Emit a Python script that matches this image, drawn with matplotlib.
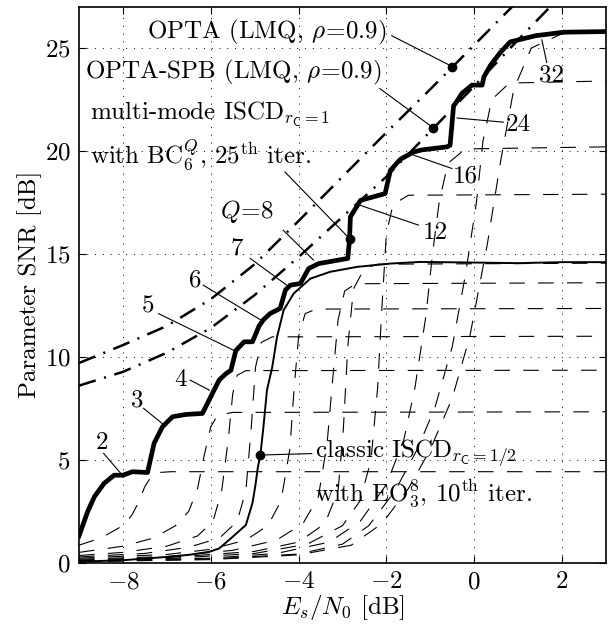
import matplotlib
matplotlib.use("Agg")
import matplotlib.pyplot as plt

plt.rcParams['font.family'] = 'serif'
plt.rcParams['font.serif'] = ['cmr10']
plt.rcParams['mathtext.fontset'] = 'cm'
plt.rcParams['axes.formatter.use_mathtext'] = True
plt.rcParams['axes.unicode_minus'] = True

# multi-mode ISCD (thick staircase)
mm_x = [-9, -8.8, -8.65, -8.43, -8.2, -8.0, -7.78, -7.44, -7.29, -7.1, -6.87, -6.57, -6.19,
        -6.0, -5.81, -5.65, -5.54, -5.43, -5.24, -5.05, -4.9, -4.8, -4.65, -4.42, -4.3,
        -4.19, -3.96, -3.77, -3.54, -2.88, -2.84, -2.82, -2.59, -2.03, -1.91, -1.68, -1.38,
        -1.2, -0.62, -0.55, -0.47, -0.43, -0.28, -0.05, 0.18, 0.22, 0.37, 0.6, 0.82, 1.4, 2.04, 3.0]
mm_y = [1.3, 2.5, 3.2, 3.85, 4.25, 4.25, 4.42, 4.38, 5.8, 6.6, 7.09, 7.2, 7.25,
        8.06, 8.87, 9.19, 9.35, 10.3, 10.73, 10.73, 11.5, 11.8, 12.1, 12.35, 13.24,
        13.48, 13.56, 14.29, 14.53, 14.78, 15.7, 16.8, 17.6, 17.93, 19.06, 19.6, 19.95,
        20.05, 20.2, 20.28, 22.2, 22.3, 22.8, 23.2, 23.2, 23.6, 24.16, 24.8, 25.3, 25.6, 25.77, 25.8]

# classic ISCD (thin solid)
cl_x = [-9, -8, -7, -6.5, -6.03, -5.81, -5.5, -5.2, -5.05, -4.98, -4.93, -4.87, -4.8, -4.72,
        -4.6, -4.49, -4.34, -4.11, -3.73, -3.28, -2.67, -1.91, -1.23, 0, 1, 2, 3]
cl_y = [0.05, 0.12, 0.28, 0.38, 0.53, 0.69, 1.26, 1.83, 2.9, 3.8, 4.6, 5.23, 6.6, 8.38,
        9.5, 10.97, 12.27, 13.08, 13.8, 14.13, 14.37, 14.53, 14.61, 14.58, 14.55, 14.6, 14.6]

# OPTA curves (dash-dot)
opta_x = [-9, -8, -7, -6, -5, -4, -3, -2, -1, 0, 1]
opta_y = [9.7, 10.57, 11.5, 12.8, 14.5, 16.6, 18.75, 20.9, 23.0, 25.15, 27.3]
spb_x = [-9, -8, -7, -6, -5, -4, -3, -2, -1, 0, 1, 2]
spb_y = [8.6, 9.27, 10.2, 11.4, 13.0, 14.85, 16.8, 18.75, 20.95, 23.15, 25.4, 27.6]

# single-mode curves (thin dashed), one per Q
q_x = {
    2: [-9, -8.5, -8.0, -7.8, -7.65, -7.5, -7.35, -7.2, -6.9, 3],
    3: [-9, -8, -7.3, -6.8, -6.5, -6.3, -6.15, -6.0, -5.85, -5.5, 3],
    4: [-9, -8, -7, -6.3, -5.95, -5.75, -5.6, -5.5, -5.4, -5.2, 3],
    5: [-9, -7.5, -6.5, -5.8, -5.4, -5.2, -5.08, -4.98, -4.85, -4.6, 3],
    6: [-9, -7, -6, -5.2, -4.7, -4.4, -4.2, -4.1, -4.0, -3.85, -3.6, 3],
    7: [-9, -7, -5.5, -4.5, -3.9, -3.55, -3.35, -3.22, -3.1, -2.95, -2.7, 3],
    8: [-9, -7, -5, -4, -3.4, -3.1, -2.98, -2.88, -2.75, -2.5, -2.2, 3],
    12: [-9, -7, -5, -3.8, -3.0, -2.6, -2.35, -2.2, -2.1, -2.0, -1.85, -1.5, 3],
    16: [-9, -6, -4.5, -3.3, -2.6, -2.0, -1.6, -1.35, -1.1, -0.95, -0.8, -0.6, -0.2, 3],
    24: [-9, -6, -4, -3, -2.4, -1.8, -1.3, -0.9, -0.5, -0.2, 0.05, 0.2, 0.4, 0.8, 3],
    32: [-9, -6, -4, -2.8, -2.1, -1.5, -1.0, -0.5, -0.1, 0.3, 0.6, 0.9, 1.3, 2.0, 3],
}
q_y = {
    2: [0.85, 1.2, 1.8, 2.3, 2.9, 3.7, 4.2, 4.38, 4.42, 4.42],
    3: [0.5, 0.8, 1.2, 1.8, 2.5, 3.6, 5.2, 6.6, 7.15, 7.3, 7.33],
    4: [0.35, 0.5, 0.8, 1.3, 2.0, 3.5, 6.0, 8.2, 9.1, 9.33, 9.35],
    5: [0.28, 0.45, 0.75, 1.2, 2.0, 3.5, 6.5, 9.5, 10.7, 10.97, 11.0],
    6: [0.22, 0.4, 0.65, 1.1, 1.8, 3.0, 5.5, 8.5, 11.0, 12.1, 12.32, 12.35],
    7: [0.17, 0.3, 0.6, 1.1, 1.9, 3.2, 5.8, 9.0, 11.8, 13.2, 13.55, 13.6],
    8: [0.13, 0.25, 0.55, 1.0, 1.9, 3.5, 6.5, 10.5, 13.3, 14.3, 14.5, 14.55],
    12: [0.1, 0.2, 0.45, 0.9, 1.8, 3.0, 5.0, 8.5, 12.5, 16.0, 17.4, 17.85, 17.9],
    16: [0.08, 0.22, 0.45, 1.0, 2.0, 3.8, 6.0, 8.5, 12.0, 15.0, 17.5, 19.4, 20.1, 20.2],
    24: [0.06, 0.18, 0.42, 0.9, 1.8, 3.5, 5.5, 7.5, 10.5, 14.0, 17.5, 20.5, 22.5, 23.3, 23.4],
    32: [0.05, 0.15, 0.38, 0.85, 1.9, 3.6, 5.5, 8.0, 11.0, 15.5, 19.5, 23.0, 25.0, 25.7, 25.8],
}

# labels of the staircase: (text, text x, text y, point x, point y, line start x, line start y)
q_labels = [
    ("2", -8.48, 5.8, -8.05, 4.34, -8.44, 5.31),
    ("3", -7.68, 7.9, -7.06, 6.68, -7.53, 7.5),
    ("4", -6.7, 8.87, -6.03, 8.38, -6.47, 8.87),
    ("5", -7.42, 12.43, -5.46, 10.3, -7.19, 12.1),
    ("6", -6.36, 13.72, -4.87, 11.8, -6.17, 13.48),
    ("7", -5.41, 15.26, -4.27, 13.48, -5.1, 14.78),
    ("$Q\\!=\\!8$", -5.18, 17.04, -3.66, 14.7, -4.35, 16.15),
    ("12", -0.89, 16.0, -2.6, 17.36, -1.27, 16.4),
    ("16", -0.21, 18.74, -1.38, 19.8, -0.51, 19.15),
    ("24", 1.0, 21.25, -0.39, 21.6, 0.66, 21.4),
    ("32", 1.76, 23.67, 1.54, 25.4, 1.65, 24.3),
]

opta_dot = (-0.5, 24.1)
spb_dot = (-0.93, 21.12)
mm_dot = (-2.82, 15.7)
cl_dot = (-4.87, 5.23)

fig = plt.figure(figsize=(6.11, 6.25), dpi=100)
ax = fig.add_axes([0.1293, 0.0997, 0.8625, 0.8893])

for q in q_x:
    ax.plot(q_x[q], q_y[q], color='black', lw=0.8, linestyle=(0, (14, 12)))

ax.plot(opta_x, opta_y, color='black', lw=1.8, linestyle=(0, (7, 3.5, 0.8, 3.5)))
ax.plot(spb_x, spb_y, color='black', lw=1.8, linestyle=(0, (7, 3.5, 0.8, 3.5)))
ax.plot(cl_x, cl_y, color='black', lw=1.4)
ax.plot(mm_x, mm_y, color='black', lw=3.4, solid_joinstyle='round')

for d in [opta_dot, spb_dot, mm_dot, cl_dot]:
    ax.plot(d[0], d[1], 'o', color='black', ms=6)

fs = 18
for txt, tx, ty, px, py, lx, ly in q_labels:
    ax.text(tx, ty, txt, fontsize=fs, ha='center', va='center')
    ax.plot([lx, px], [ly, py], color='black', lw=0.8)

ax.text(-7.45, 25.78, "OPTA (LMQ, $\\rho\\!=\\!0.9$)", fontsize=fs, ha='left', va='center')
ax.plot([-1.88, opta_dot[0]], [25.6, opta_dot[1]], color='black', lw=0.8)
ax.text(-8.86, 23.83, "OPTA-SPB (LMQ, $\\rho\\!=\\!0.9$)", fontsize=fs, ha='left', va='center')
ax.plot([-2.15, spb_dot[0]], [23.03, spb_dot[1]], color='black', lw=0.8)
ax.text(-8.74, 21.83, "multi-mode ISCD$_{r_\\mathsf{C}=1}$", fontsize=fs, ha='left', va='center')
ax.text(-8.74, 19.8, "with BC$_6^Q$, 25$^\\mathrm{th}$ iter.", fontsize=fs, ha='left', va='center')
ax.plot([-4.31, mm_dot[0]], [18.98, mm_dot[1]], color='black', lw=0.8)
ax.text(-3.62, 5.3, "classic ISCD$_{r_\\mathsf{C}=1/2}$", fontsize=fs, ha='left', va='center')
ax.text(-3.62, 3.4, "with EO$_3^8$, 10$^\\mathrm{th}$ iter.", fontsize=fs, ha='left', va='center')
ax.plot([cl_dot[0], -3.7], [cl_dot[1], 5.3], color='black', lw=0.8)

ax.set_xlim(-9, 3)
ax.set_ylim(0, 27)
ax.set_xticks([-8, -6, -4, -2, 0, 2])
ax.set_yticks([0, 5, 10, 15, 20, 25])
ax.tick_params(direction='in', top=True, right=True, labelsize=fs, length=5, pad=6)
ax.grid(True, color='black', linestyle=(0, (1, 7)), lw=0.7)
ax.set_xlabel("$E_s/N_0$ [dB]", fontsize=fs, labelpad=0)
ax.set_ylabel("Parameter SNR [dB]", fontsize=fs, labelpad=2)
for s in ax.spines.values():
    s.set_linewidth(1.2)

fig.savefig("out.png", dpi=100)
